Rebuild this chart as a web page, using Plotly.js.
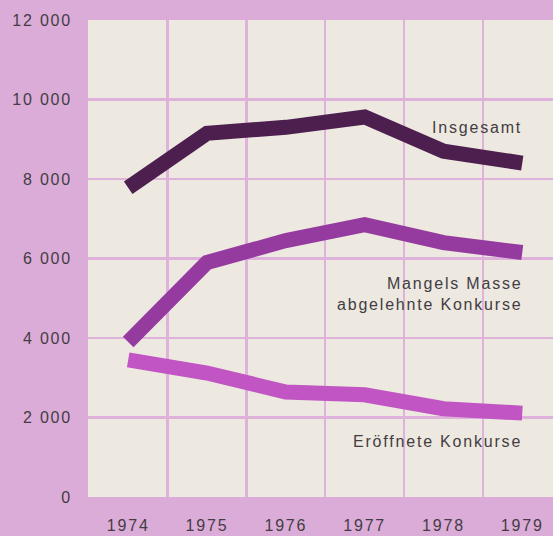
<!DOCTYPE html>
<html>
<head>
<meta charset="utf-8">
<script src="https://cdn.plot.ly/plotly-3.0.1.min.js"></script>
<style>
html,body{margin:0;padding:0;background:#dcacd8;}
svg text{letter-spacing:1.8px;}
</style>
</head>
<body>
<div id="chart" style="width:553px;height:536px;"></div>
<script>
const years = [1974, 1975, 1976, 1977, 1978, 1979];
const gridYears = [1974.5, 1975.5, 1976.5, 1977.5, 1978.5];
const insgesamt = [7780, 9150, 9300, 9560, 8700, 8400];
const mangelsMasse = [3900, 5900, 6450, 6850, 6400, 6150];
const eroeffnete = [3450, 3120, 2640, 2570, 2220, 2110];
const yTickVals = [0, 2000, 4000, 6000, 8000, 10000, 12000];
const yTickText = ['0', '2 000', '4 000', '6 000', '8 000', '10 000', '12 000'];
const labelInsgesamt = 'Insgesamt';
const labelMangels = 'Mangels Masse<br>abgelehnte Konkurse';
const labelEroeffnete = 'Eröffnete Konkurse';

const txtColor = '#433d43';
const fam = 'Liberation Sans, Arial, sans-serif';
const font = {family: fam, size: 15, color: txtColor};

const traces = [
  {x: years, y: eroeffnete, mode: 'lines', line: {color: '#c055c3', width: 15}, hoverinfo: 'none'},
  {x: years, y: mangelsMasse, mode: 'lines', line: {color: '#953a9f', width: 15}, hoverinfo: 'none'},
  {x: years, y: insgesamt, mode: 'lines', line: {color: '#4c1f4f', width: 15}, hoverinfo: 'none'}
];

const annFont = {family: fam, size: 16, color: txtColor};

const layout = {
  width: 553, height: 536,
  margin: {l: 88, r: 0, t: 20, b: 39},
  paper_bgcolor: '#dcacd8',
  plot_bgcolor: '#ede8e0',
  showlegend: false,
  font: font,
  xaxis: {
    range: [1973.49, 1979.39],
    tickvals: years,
    ticktext: years.map(String),
    showgrid: false,
    zeroline: false,
    showline: false,
    ticks: '',
    ticklabelstandoff: 17,
    tickfont: {family: fam, size: 16, color: txtColor},
    minor: {tickvals: gridYears, showgrid: true, gridcolor: '#dfb2db', gridwidth: 2.5, ticks: ''},
    fixedrange: true
  },
  yaxis: {
    range: [0, 12000],
    tickvals: yTickVals,
    ticktext: yTickText,
    showgrid: true,
    gridcolor: '#dfb2db',
    gridwidth: 2.5,
    zeroline: false,
    showline: false,
    ticks: '',
    ticklabelstandoff: 15,
    tickfont: {family: fam, size: 16, color: txtColor},
    fixedrange: true
  },
  annotations: [
    {x: 1979, y: 9285, xref: 'x', yref: 'y', xshift: 2, text: labelInsgesamt, showarrow: false, xanchor: 'right', yanchor: 'middle', align: 'right', font: annFont},
    {x: 1979, y: 5100, xref: 'x', yref: 'y', xshift: 2, text: labelMangels, showarrow: false, xanchor: 'right', yanchor: 'middle', align: 'right', font: annFont},
    {x: 1979, y: 1385, xref: 'x', yref: 'y', xshift: 2, text: labelEroeffnete, showarrow: false, xanchor: 'right', yanchor: 'middle', align: 'right', font: annFont}
  ]
};

Plotly.newPlot('chart', traces, layout, {staticPlot: true, displayModeBar: false});
</script>
</body>
</html>
